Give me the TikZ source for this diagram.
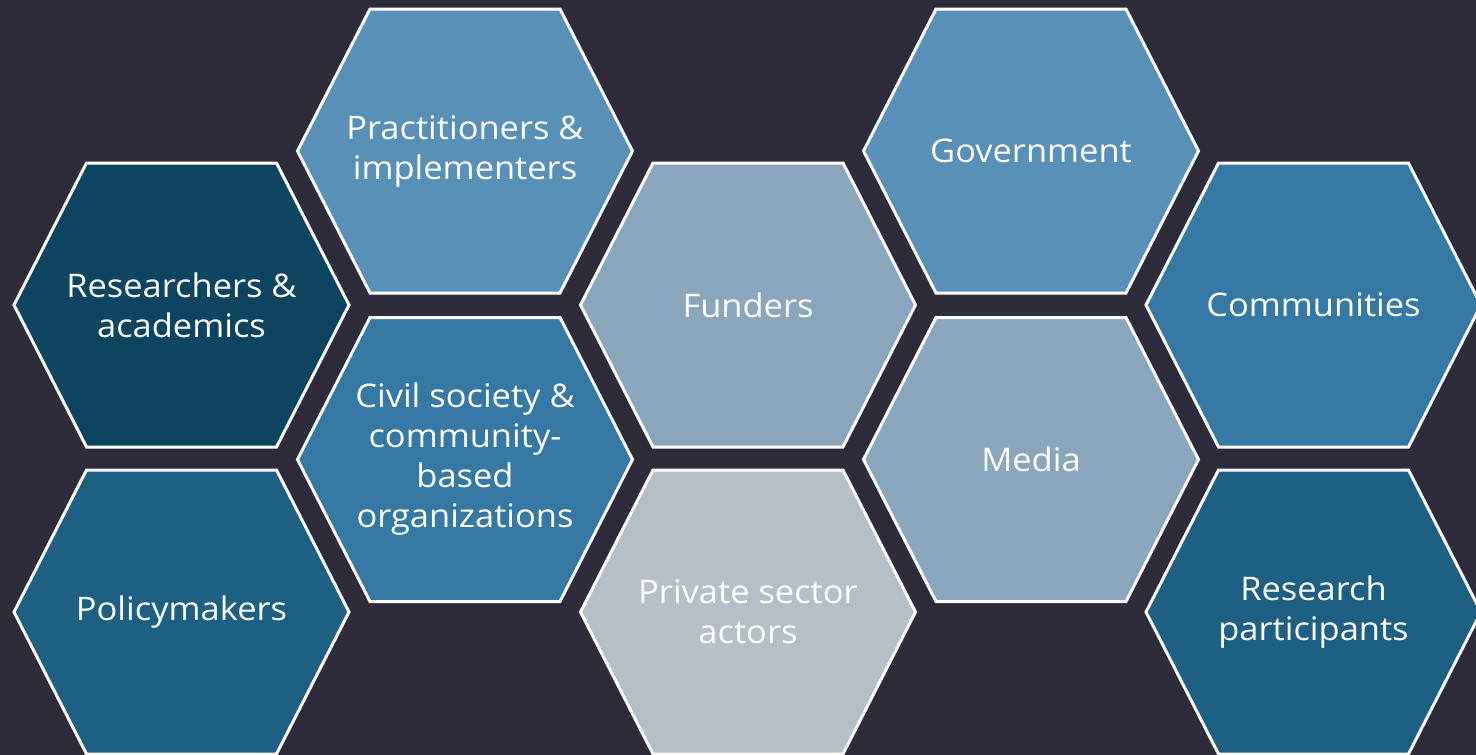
\documentclass[tikz,border=0pt]{standalone}
\usepackage{fontspec}
\setmainfont[FakeStretch=1.06]{Open Sans}
\definecolor{bg}{HTML}{2E2B3A}
\definecolor{cdark}{HTML}{0D4560}
\definecolor{cteal}{HTML}{1D6083}
\definecolor{cblue}{HTML}{3478A3}
\definecolor{cmid}{HTML}{5890B8}
\definecolor{cgray}{HTML}{8AA6BD}
\definecolor{clight}{HTML}{B5BFC8}
\tikzset{
  hexlabel/.style={text=white, align=center, font=\fontsize{32.5}{40}\selectfont, inner sep=0pt},
  hexborder/.style={draw=white, line width=3pt, line join=miter}
}
\newcommand\hexcell[5]{%
  \fill[#3] (#1-167.5,#2) -- (#1-95,#2-142) -- (#1+95,#2-142) -- (#1+167.5,#2) -- (#1+95,#2+142) -- (#1-95,#2+142) -- cycle;
  \draw[hexborder] (#1-167.5,#2) -- (#1-95,#2-142) -- (#1+95,#2-142) -- (#1+167.5,#2) -- (#1+95,#2+142) -- (#1-95,#2+142) -- cycle;
  \node[hexlabel] (#4) at (#1,#2) {#5};%
}
\begin{document}
\begin{tikzpicture}[x=1pt,y=-1pt]
\fill[bg] (0,0) rectangle (1476,755);
\useasboundingbox (0,0) rectangle (1476,755);
\hexcell{181.5}{305}{cdark}{res}{Researchers \&\\academics}
\hexcell{181.5}{612}{cteal}{pol}{Policymakers}
\hexcell{465}{151}{cmid}{pra}{Practitioners \&\\implementers}
\hexcell{465}{459.5}{cblue}{civ}{Civil society \&\\community-\\based\\organizations}
\hexcell{748}{305}{cgray}{fun}{Funders}
\hexcell{748}{612}{clight}{pri}{Private sector\\actors}
\hexcell{1031}{151}{cmid}{gov}{Government}
\hexcell{1031}{459.5}{cgray}{med}{Media}
\hexcell{1313.5}{305}{cblue}{com}{Communities}
\hexcell{1313.5}{612}{cteal}{rp}{Research\\participants}
\end{tikzpicture}
\end{document}
